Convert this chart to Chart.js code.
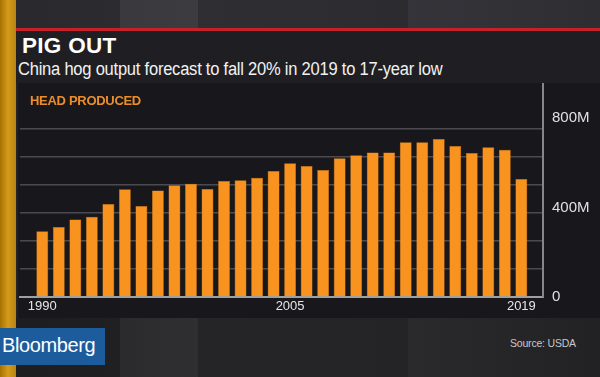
<!DOCTYPE html>
<html>

<head>
	<title>Pig Out</title>
	<script src="https://cdn.jsdelivr.net/npm/chart.js@4.4.1/dist/chart.umd.min.js"></script>
	<style>
		body { margin: 0; width: 600px; height: 377px; overflow: hidden; background: #232326; font-family: "Liberation Sans", Arial, sans-serif; }
		.abs { position: absolute; }
	</style>
</head>

<body>
	<div class="abs" style="left:0;top:0;width:600px;height:29px;background:linear-gradient(90deg,#29292d 0,#2c2c30 20%,#3a3a3e 20%,#3c3c40 33%,#2f2f33 33%,#2c2c30 68%,#34343a 68%,#2e2e32 100%);"></div>
	<div class="abs" style="left:0;top:318px;width:600px;height:59px;background:linear-gradient(90deg,#1d1d20 0,#202023 20%,#2b2b2e 20%,#2f2f32 33%,#252528 33%,#242427 68%,#2a2a2d 68%,#222225 100%);"></div>
	<div class="abs" style="left:14px;top:28px;width:586px;height:3px;background:#c8202b;"></div>
	<div class="abs" style="left:14px;top:31px;width:586px;height:52px;background:#1f1f23;"></div>
	<div class="abs" style="left:18px;top:83px;width:582px;height:235px;background:#18181c;"></div>
	<div class="abs" style="left:0;top:0;width:16px;height:377px;background:linear-gradient(90deg,#a87200,#d49a1c 50%,#b88410);"></div>
	<div class="abs" style="left:22px;top:33px;color:#fff;font-weight:bold;font-size:22.5px;letter-spacing:0.3px;">PIG OUT</div>
	<div class="abs" style="left:18px;top:59px;color:#f2f2f2;font-size:18px;letter-spacing:-0.25px;white-space:nowrap;transform:scaleX(0.918);transform-origin:left top;">China hog output forecast to fall 20% in 2019 to 17-year low</div>
	<div class="abs" style="left:0;top:83px;width:600px;height:240px;">
		<canvas id="myChart" width="600" height="240"></canvas>
	</div>
	<div class="abs" style="left:30px;top:93px;color:#ec8d2c;font-weight:bold;font-size:13px;letter-spacing:-0.3px;">HEAD PRODUCED</div>
	<div class="abs" style="left:0;top:328px;width:105px;height:37px;background:#1c5b9c;"></div>
	<div class="abs" style="left:2px;top:334px;color:#fff;font-size:20px;letter-spacing:-0.4px;">Bloomberg</div>
	<div class="abs" style="left:510px;top:337px;color:#c8c8c8;font-size:10.5px;letter-spacing:-0.2px;">Source: USDA</div>
	<script>
		var years = [1990, 1991, 1992, 1993, 1994, 1995, 1996, 1997, 1998, 1999,
			2000, 2001, 2002, 2003, 2004, 2005, 2006, 2007, 2008, 2009,
			2010, 2011, 2012, 2013, 2014, 2015, 2016, 2017, 2018, 2019];
		// million head
		var headProduced = [294, 313, 346, 358, 415, 481, 407, 476, 499, 506,
			483, 518, 522, 533, 563, 597, 585, 567, 620, 633,
			646, 646, 691, 691, 706, 675, 643, 669, 658, 527];
		var yearTicks = [1990, 2005, 2019];
		var gridValues = [125, 250, 375, 500, 625, 750];
		var labelValues = [0, 400, 800];

		var points = [];
		for (i = 0; i < years.length; i++) {
			points.push({ x: years[i], y: headProduced[i] });
		}

		var ctx = document.getElementById("myChart").getContext('2d');
		var myChart = new Chart(ctx, {
			type: 'bar',
			data: {
				datasets: [{
					label: 'Head produced',
					backgroundColor: '#f7931e',
					borderColor: '#d77a12',
					borderWidth: 0.5,
					barPercentage: 0.9,
					categoryPercentage: 0.8,
					data: points
				}]
			},
			options: {
				responsive: false,
				animation: false,
				events: [],
				layout: { padding: { left: 20, right: 0, top: 0, bottom: 0 } },
				plugins: { legend: { display: false }, tooltip: { enabled: false } },
				scales: {
					x: {
						type: 'linear',
						offset: false,
						min: 1988.65,
						max: 2020.31,
						grid: { display: false, drawTicks: false, offset: false },
						border: { display: true, color: '#a0a0a4', width: 2 },
						afterBuildTicks: function (axis) {
							axis.ticks = yearTicks.map(function (v) { return { value: v }; });
						},
						afterFit: function (axis) { axis.height = 26; },
						ticks: {
							color: '#e6e6e6',
							padding: 2,
							font: { family: 'Liberation Sans', size: 13 },
							callback: function (v) { return String(v); }
						}
					},
					y: {
						position: 'right',
						min: 0,
						max: 956,
						afterBuildTicks: function (axis) {
							axis.ticks = labelValues.concat(gridValues).sort(function (a, b) { return a - b; })
								.map(function (v) { return { value: v }; });
						},
						afterFit: function (axis) {
							axis.width = 57;
							axis.paddingTop = 0;
							axis.paddingBottom = 0;
						},
						grid: {
							drawTicks: false,
							lineWidth: 1.5,
							color: function (c) {
								return gridValues.indexOf(c.tick.value) >= 0 ? '#4a4a50' : 'rgba(0,0,0,0)';
							}
						},
						border: { display: true, color: '#85858a', width: 2 },
						ticks: {
							color: '#e0e0e0',
							padding: 9,
							font: { family: 'Liberation Sans', size: 15 },
							callback: function (v) {
								if (labelValues.indexOf(v) < 0) return '';
								return v === 0 ? '0' : v + 'M';
							}
						}
					}
				}
			}
		});
	</script>
</body>

</html>
